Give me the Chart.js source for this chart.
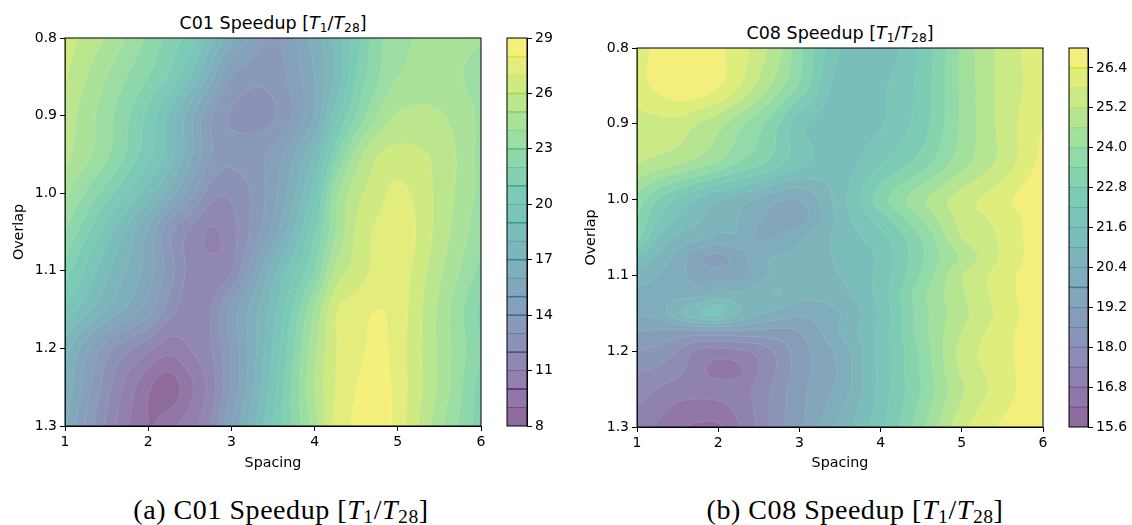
<!DOCTYPE html>
<html lang="en">
<head>
<meta charset="UTF-8">
<title>Speedup contour plots</title>
<script src="https://cdn.jsdelivr.net/npm/chart.js"></script>
<style>
  body { margin: 0; background: #fff; width: 1132px; height: 525px; overflow: hidden; position: relative; }
  canvas { position: absolute; }
  .title, .caption { position: absolute; white-space: nowrap; transform: translate(-50%, -50%); color: #000; }
  .title { font: 17.5px "DejaVu Sans", sans-serif; }
  .caption { font: 28px "Liberation Serif", serif; letter-spacing: .55px; }
  sub { font-size: 70%; line-height: 0; vertical-align: -0.22em; }
</style>
</head>
<body>
<div class="title" style="left:273px;top:23px">C01 Speedup [<i>T</i><sub>1</sub>/<i>T</i><sub>28</sub>]</div>
<div class="title" style="left:840px;top:33px">C08 Speedup [<i>T</i><sub>1</sub>/<i>T</i><sub>28</sub>]</div>
<canvas id="c01" width="490" height="480" style="left:0;top:0"></canvas>
<canvas id="c01bar" width="60" height="480" style="left:500px;top:0"></canvas>
<canvas id="c08" width="490" height="480" style="left:570px;top:0"></canvas>
<canvas id="c08bar" width="72" height="480" style="left:1060px;top:0"></canvas>
<div class="caption" style="left:281px;top:510px">(a) C01 Speedup [<i>T</i><sub>1</sub>/<i>T</i><sub>28</sub>]</div>
<div class="caption" style="left:855px;top:510px">(b) C08 Speedup [<i>T</i><sub>1</sub>/<i>T</i><sub>28</sub>]</div>

<script>
// values
const c01Spacing = [1, 1.5, 2, 2.25, 2.5, 2.75, 3, 3.5, 4, 4.25, 4.5, 4.75, 5, 5.5, 6];
const c01Overlap = [0.8, 0.85, 0.9, 0.95, 1.0, 1.05, 1.1, 1.15, 1.2, 1.25, 1.3];
const c01Values = [
  [26.5, 24.9, 22.8, 21.6, 20.6, 18.4, 16.4, 13.9, 16.4, 18.3, 20.5, 22.6, 23.6, 24.4, 24.1],
  [26.1, 24.0, 22.0, 20.9, 19.0, 16.5, 14.0, 13.4, 16.0, 18.0, 21.0, 22.8, 24.0, 24.4, 23.6],
  [25.6, 23.4, 20.7, 18.7, 16.5, 14.1, 12.9, 12.9, 16.0, 19.5, 22.0, 24.0, 25.1, 25.1, 23.8],
  [25.3, 23.2, 20.3, 18.5, 16.3, 14.1, 13.3, 14.3, 18.0, 21.5, 24.3, 25.9, 26.3, 25.7, 23.7],
  [24.3, 21.5, 18.4, 16.7, 14.5, 12.5, 12.2, 14.6, 19.5, 23.6, 25.6, 26.5, 27.3, 25.7, 23.7],
  [23.0, 19.5, 15.8, 13.3, 11.9, 10.9, 11.6, 15.3, 20.8, 23.9, 26.1, 27.2, 27.8, 25.6, 23.3],
  [21.5, 18.2, 15.5, 13.5, 11.7, 11.3, 11.9, 17.5, 22.0, 25.2, 26.4, 27.3, 27.6, 25.2, 22.7],
  [19.8, 17.0, 14.5, 12.5, 11.5, 11.95, 14.3, 18.5, 24.0, 26.8, 27.5, 28.0, 27.6, 24.8, 21.7],
  [17.5, 13.5, 11.3, 10.4, 11.0, 11.9, 14.1, 19.0, 24.7, 26.9, 27.6, 28.3, 27.5, 24.8, 22.0],
  [16.8, 12.4, 9.2, 8.5, 9.7, 11.4, 14.0, 19.5, 25.0, 27.0, 28.0, 28.6, 27.6, 24.8, 21.5],
  [16.2, 11.8, 9.0, 9.7, 10.6, 12.0, 15.0, 20.0, 24.5, 27.3, 28.2, 28.7, 27.6, 24.3, 21.4]
];
const c01Levels = [8, 9, 10, 11, 12, 13, 14, 15, 16, 17, 18, 19, 20, 21, 22, 23, 24, 25, 26, 27, 28, 29];
const c01Ticks = [8, 11, 14, 17, 20, 23, 26, 29];
const c01BarLines = [10, 12, 14, 15, 17, 19, 21, 23, 25, 26, 28];

const c08Spacing = [1, 1.25, 1.5, 1.75, 2, 2.25, 2.5, 2.75, 3, 3.5, 4, 4.5, 5, 5.5, 6];
const c08Overlap = [0.8, 0.85, 0.9, 0.95, 1.0, 1.025, 1.05, 1.075, 1.1, 1.125, 1.15, 1.175, 1.2, 1.225, 1.25, 1.3];
const c08Values = [
  [26.2, 26.5, 26.7, 26.6, 26.5, 26.1, 25.5, 24.8, 23.6, 21.6, 21.2, 22.3, 24.1, 25.4, 26.2],
  [26.2, 26.5, 26.8, 26.8, 26.45, 25.85, 25.05, 24.2, 23.3, 21.3, 21.5, 22.4, 24.1, 25.4, 26.1],
  [25.5, 25.6, 25.6, 25.2, 24.8, 24.2, 23.6, 22.8, 21.8, 21.2, 21.55, 22.5, 24.1, 25.4, 26.4],
  [25.25, 25.0, 24.75, 24.4, 24.0, 23.4, 23.0, 22.4, 21.8, 21.3, 22.15, 23.05, 24.35, 25.4, 26.6],
  [23.8, 22.8, 22.1, 21.5, 21.0, 20.7, 20.3, 19.9, 19.8, 21.3, 23.1, 24.45, 25.5, 26.2, 27.0],
  [23.4, 22.3, 21.5, 21.1, 20.7, 20.4, 19.9, 19.5, 19.5, 21.2, 22.5, 24.0, 25.4, 26.0, 26.9],
  [23.1, 21.6, 20.9, 20.6, 20.25, 20.3, 19.7, 19.85, 20.3, 21.2, 22.0, 23.4, 25.2, 25.9, 26.9],
  [21.6, 20.9, 20.2, 19.4, 19.1, 19.5, 20.2, 20.45, 20.6, 21.1, 21.75, 23.3, 24.7, 25.9, 26.8],
  [20.8, 20.4, 20.1, 19.5, 19.5, 19.55, 20.1, 20.7, 20.9, 21.0, 21.8, 23.45, 25.15, 26.1, 26.9],
  [20.2, 20.2, 20.2, 20.2, 20.7, 20.5, 20.8, 21.0, 20.6, 20.8, 21.85, 23.8, 25.1, 26.1, 26.9],
  [19.9, 20.0, 20.8, 21.5, 21.8, 21.0, 20.5, 20.2, 19.9, 20.4, 21.7, 23.7, 25.0, 26.0, 26.9],
  [19.2, 19.1, 19.0, 19.0, 19.0, 19.0, 19.0, 19.0, 19.2, 20.4, 21.8, 23.7, 25.2, 26.15, 26.9],
  [18.6, 18.4, 18.0, 17.3, 17.2, 17.3, 17.6, 18.2, 18.9, 20.0, 21.8, 23.5, 25.4, 26.2, 26.9],
  [18.1, 17.9, 17.6, 17.0, 16.6, 16.7, 17.4, 18.1, 18.9, 19.9, 21.8, 23.5, 25.3, 26.15, 26.9],
  [17.7, 17.4, 17.1, 17.0, 17.0, 17.1, 17.6, 18.3, 19.0, 20.0, 21.8, 23.4, 25.1, 26.1, 26.9],
  [17.05, 16.7, 16.3, 16.1, 16.1, 16.75, 17.5, 18.4, 19.0, 20.6, 22.0, 23.8, 25.6, 26.5, 26.9]
];
const c08Levels = [15.6, 16.2, 16.8, 17.4, 18.0, 18.6, 19.2, 19.8, 20.4, 21.0, 21.6, 22.2, 22.8, 23.4, 24.0, 24.6, 25.2, 25.8, 26.4, 27.0];
const c08Ticks = [15.6, 16.8, 18.0, 19.2, 20.4, 21.6, 22.8, 24.0, 25.2, 26.4];
const c08BarLines = [19.8, 26.4];

const spacingTicks = [1, 2, 3, 4, 5, 6];
const overlapTicks = [0.8, 0.9, 1.0, 1.1, 1.2, 1.3];

const viridisStops = [
  [68, 1, 84], [72, 36, 117], [65, 68, 135], [53, 95, 141], [42, 120, 142], [33, 145, 140],
  [34, 168, 132], [68, 191, 112], [122, 209, 81], [189, 223, 38], [253, 231, 37]
];
const ALPHA = 0.6;
const FONT = '"DejaVu Sans", sans-serif';

function viridis(t) {
  const p = Math.min(Math.max(t, 0), 1) * 10;
  const i = Math.min(Math.floor(p), 9);
  return viridisStops[i].map((c, k) => c + (viridisStops[i + 1][k] - c) * (p - i));
}

function bandColor(levels, i) {
  const lo = levels[0], hi = levels[levels.length - 1];
  return viridis(((levels[i] + levels[i + 1]) / 2 - lo) / (hi - lo));
}

// smooth curve through the read values, only used to paint between them
function resample(xs, ys, targets) {
  const n = xs.length;
  const m = xs.map((x, i) => {
    const a = Math.max(i - 1, 0), b = Math.min(i + 1, n - 1);
    return (ys[b] - ys[a]) / (xs[b] - xs[a]);
  });
  let k = 0;
  return targets.map(x => {
    while (k < n - 2 && x > xs[k + 1]) k++;
    const h = xs[k + 1] - xs[k];
    const t = Math.min(Math.max((x - xs[k]) / h, 0), 1);
    const t2 = t * t, t3 = t2 * t;
    return (2 * t3 - 3 * t2 + 1) * ys[k] + (t3 - 2 * t2 + t) * h * m[k] +
      (-2 * t3 + 3 * t2) * ys[k + 1] + (t3 - t2) * h * m[k + 1];
  });
}

// filled contour bands painted through the chart's own scales
function contourPlugin(spacing, overlap, values, levels) {
  return {
    id: 'contourBands',
    beforeDatasetsDraw(chart) {
      const { ctx, chartArea: area, scales } = chart;
      const ss = 2;
      const w = Math.round(area.width) * ss, h = Math.round(area.height) * ss;
      const xT = [], yT = [];
      for (let i = 0; i < w; i++) xT.push(scales.x.getValueForPixel(area.left + (i + 0.5) / ss));
      for (let j = 0; j < h; j++) yT.push(scales.y.getValueForPixel(area.top + (j + 0.5) / ss));
      const rows = values.map(r => resample(spacing, r, xT));
      const bands = new Int16Array(w * h);
      for (let i = 0; i < w; i++) {
        const col = resample(overlap, rows.map(r => r[i]), yT);
        for (let j = 0; j < h; j++) {
          let b = 0;
          while (b < levels.length - 2 && col[j] >= levels[b + 1]) b++;
          bands[j * w + i] = b;
        }
      }
      const colors = levels.slice(0, -1).map((_, i) => bandColor(levels, i));
      const off = document.createElement('canvas');
      off.width = w; off.height = h;
      const octx = off.getContext('2d');
      const img = octx.createImageData(w, h);
      for (let j = 0; j < h; j++) {
        for (let i = 0; i < w; i++) {
          const p = j * w + i, b = bands[p], c = colors[b];
          const seam = (i + 1 < w && bands[p + 1] !== b) || (j + 1 < h && bands[p + w] !== b);
          img.data[p * 4] = c[0];
          img.data[p * 4 + 1] = c[1];
          img.data[p * 4 + 2] = c[2];
          img.data[p * 4 + 3] = 255 * ALPHA * (seam ? 0.85 : 1);
        }
      }
      octx.putImageData(img, 0, 0);
      ctx.save();
      ctx.imageSmoothingEnabled = true;
      ctx.imageSmoothingQuality = 'high';
      ctx.drawImage(off, area.left, area.top, area.width, area.height);
      ctx.restore();
    }
  };
}

const framePlugin = {
  id: 'frame',
  afterDraw(chart) {
    const { ctx, chartArea: a } = chart;
    ctx.save();
    ctx.strokeStyle = '#000';
    ctx.lineWidth = 1;
    ctx.strokeRect(a.left, a.top, a.width, a.height);
    ctx.restore();
  }
};

function drawContour(id, spacing, overlap, values, levels, pad) {
  const points = [];
  overlap.forEach((o, r) => spacing.forEach((s, c) => points.push({ x: s, y: o, v: values[r][c] })));
  new Chart(document.getElementById(id), {
    type: 'scatter',
    data: { datasets: [{ data: points, pointRadius: 0, pointHoverRadius: 0 }] },
    options: {
      responsive: false,
      animation: false,
      events: [],
      layout: { padding: { top: pad.top, right: pad.right, bottom: 8, left: 0 } },
      plugins: { legend: { display: false }, tooltip: { enabled: false } },
      scales: {
        x: {
          type: 'linear', min: 1, max: 6,
          afterBuildTicks: s => { s.ticks = spacingTicks.map(v => ({ value: v })); },
          afterFit: s => { s.height = pad.axisH; },
          grid: { drawOnChartArea: false, tickLength: 5, tickColor: '#000', tickWidth: 1 },
          border: { color: '#000' },
          ticks: { color: '#000', font: { family: FONT, size: 14 }, padding: 3, maxRotation: 0, callback: v => v },
          title: { display: true, text: 'Spacing', color: '#000', font: { family: FONT, size: 14.3 }, padding: 0 }
        },
        y: {
          type: 'linear', min: 0.8, max: 1.3, reverse: true,
          afterBuildTicks: s => { s.ticks = overlapTicks.map(v => ({ value: v })); },
          afterFit: s => { s.width = pad.axisW; },
          grid: { drawOnChartArea: false, tickLength: 5, tickColor: '#000', tickWidth: 1 },
          border: { color: '#000' },
          ticks: { color: '#000', font: { family: FONT, size: 14 }, padding: 3, callback: v => v.toFixed(1) },
          title: { display: true, text: 'Overlap', color: '#000', font: { family: FONT, size: 14.3 }, padding: { top: pad.titleLeft, bottom: 0 } }
        }
      }
    },
    plugins: [contourPlugin(spacing, overlap, values, levels), framePlugin]
  });
}

function drawColorbar(id, levels, ticks, lines, digits, pad) {
  const bands = levels.slice(0, -1).map((lo, i) => {
    const c = bandColor(levels, i);
    return {
      data: [[lo, levels[i + 1]]],
      backgroundColor: `rgba(${c[0]},${c[1]},${c[2]},${ALPHA})`,
      grouped: false, barPercentage: 1, categoryPercentage: 1
    };
  });
  const thin = (levels[levels.length - 1] - levels[0]) / 388 * 0.5;
  const marks = lines.map(v => {
    const i = Math.max(levels.findIndex(l => l >= v - 1e-6) - 1, 0);
    const c = bandColor(levels, i);
    return {
      data: [[v - thin, v + thin]],
      backgroundColor: `rgba(${c[0]},${c[1]},${c[2]},0.7)`,
      grouped: false, barPercentage: 1, categoryPercentage: 1
    };
  });
  new Chart(document.getElementById(id), {
    type: 'bar',
    data: { labels: [''], datasets: bands.concat(marks) },
    options: {
      responsive: false,
      animation: false,
      events: [],
      layout: { padding: { top: pad.top, bottom: pad.bottom, left: pad.left, right: 0 } },
      plugins: { legend: { display: false }, tooltip: { enabled: false } },
      scales: {
        x: { display: false },
        y: {
          position: 'right',
          min: levels[0], max: levels[levels.length - 1],
          afterBuildTicks: s => { s.ticks = ticks.map(v => ({ value: v })); },
          afterFit: s => { s.width = pad.axisW; },
          grid: { drawOnChartArea: false, tickLength: 5, tickColor: '#000', tickWidth: 1 },
          border: { color: '#000' },
          ticks: { color: '#000', font: { family: FONT, size: 14 }, padding: 3, callback: v => v.toFixed(digits) }
        }
      }
    },
    plugins: [framePlugin]
  });
}

drawContour('c01', c01Spacing, c01Overlap, c01Values, c01Levels, { top: 38, right: 9, axisW: 65, axisH: 46, titleLeft: 11 });
drawColorbar('c01bar', c01Levels, c01Ticks, c01BarLines, 0, { top: 38, bottom: 54, left: 7, axisW: 33 });
drawContour('c08', c08Spacing, c08Overlap, c08Values, c08Levels, { top: 48, right: 17, axisW: 67, axisH: 45, titleLeft: 13 });
drawColorbar('c08bar', c08Levels, c08Ticks, c08BarLines, 1, { top: 48, bottom: 53, left: 9, axisW: 44 });
</script>
</body>
</html>
